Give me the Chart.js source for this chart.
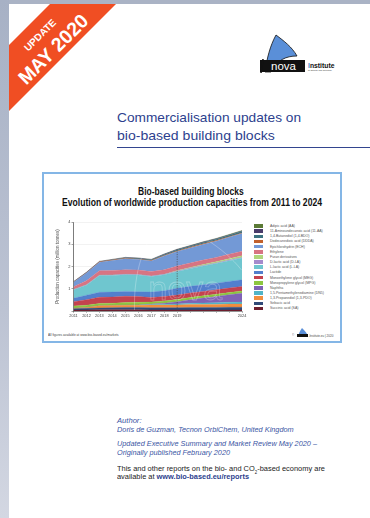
<!DOCTYPE html>
<html>
<head>
<meta charset="utf-8">
<script src="https://cdn.jsdelivr.net/npm/chart.js@4.4.1/dist/chart.umd.min.js"></script>
<style>
  html, body { margin: 0; padding: 0; }
  body { width: 370px; height: 518px; overflow: hidden; position: relative; background: #fff;
         font-family: "Liberation Sans", Arial, Helvetica, sans-serif; }
  .abs { position: absolute; white-space: nowrap; }
  #topStrip { left: 0; top: 0; width: 370px; height: 4px; background: #aab3c5; }
  #leftStrip { left: 0; top: 0; width: 9px; height: 518px;
               background: linear-gradient(#a7b1c5, #bcc3d3 60%, #d3d7e2); }
  .coverTitle { color: #2d3f8e; font-size: 13.3px; line-height: 13.3px; }
  #rule { left: 117px; top: 147px; width: 253px; height: 1px; background: #33458f; }
  #frame { left: 41.5px; top: 172px; width: 296.5px; height: 166.5px; border: 2.5px solid #84b6e6; background: #fff; }
  .chartTitle { font-weight: bold; font-size: 10px; line-height: 10px; color: #111;
                font-family: "Liberation Sans Narrow", "Liberation Sans", Arial, sans-serif; }
  #legend { left: 254px; top: 224.3px; }
  .lg { position: absolute; left: 0; height: 5.15px; white-space: nowrap; }
  .lg i { position: absolute; left: 0; top: 0; width: 9px; height: 3.6px; }
  .lg span { position: absolute; left: 16px; top: -0.3px; font-size: 3.5px; line-height: 4px; color: #555; }
  .foot { font-size: 3px; line-height: 3px; color: #444; }
  .info { font-size: 7.8px; line-height: 7.8px; color: #3b55a3; font-style: italic; }
  .plain { font-size: 7.8px; line-height: 7.8px; color: #222; }
  .plain b { color: #2d3f8e; }
  #chartBox { left: 44px; top: 214px; width: 208px; height: 110px; }
</style>
</head>
<body>
<div id="topStrip" class="abs"></div>
<div id="leftStrip" class="abs"></div>

<!-- corner ribbon -->
<svg class="abs" style="left:0;top:0" width="130" height="130">
  <polygon points="50,4 116,4 9,111 9,45" fill="#f04e23"/>
  <text x="40" y="35" transform="rotate(-45 40 35)" text-anchor="middle" dominant-baseline="central"
        font-family="Liberation Sans, Arial" font-weight="bold" font-size="10" fill="#fff">UPDATE</text>
  <text x="53" y="49" transform="rotate(-45 53 49)" text-anchor="middle" dominant-baseline="central"
        font-family="Liberation Sans, Arial" font-weight="bold" font-size="19.5" fill="#fff">MAY 2020</text>
</svg>

<!-- nova-Institute logo -->
<svg class="abs" style="left:255px;top:30px" width="95" height="48">
  <path d="M10,42 C12,28 15,16 21,5 C29,11 37,17 42,26 C31,26 22,30 16,42 Z" fill="#5a8fd8" stroke="#111" stroke-width="0.8"/>
  <rect x="5" y="30" width="45" height="12" fill="#111"/>
  <path d="M8,29 L6,43" stroke="#111" stroke-width="1.5"/>
  <text x="28.5" y="40" text-anchor="middle" font-family="Liberation Sans, Arial" font-size="11.5" fill="#fff">nova</text>
  <text x="53" y="37.5" font-family="Liberation Sans, Arial" font-weight="bold" font-size="6.8" fill="#111"><tspan fill="#4a7fd0">I</tspan>nstitute</text>
  <text x="53" y="41" font-family="Liberation Sans, Arial" font-size="2" fill="#333">for Ecology and Innovation</text>
</svg>

<div class="abs coverTitle" style="left:117px;top:110.7px" data-w="184">Commercialisation updates on</div>
<div class="abs coverTitle" style="left:117px;top:129.4px" data-w="157.7">bio-based building blocks</div>
<div id="rule" class="abs"></div>

<div id="frame" class="abs"></div>
<div class="abs chartTitle" style="left:138.3px;top:187.3px" data-w="105.7">Bio-based building blocks</div>
<div class="abs chartTitle" style="left:61.7px;top:197.6px" data-w="260">Evolution of worldwide production capacities from 2011 to 2024</div>

<div id="chartBox" class="abs"><canvas id="chart" width="208" height="110"></canvas></div>
<div id="legend" class="abs"></div>

<div class="abs foot" style="left:48.3px;top:333.5px" data-w="70.7">All figures available at www.bio-based.eu/markets</div>
<svg class="abs" style="left:292px;top:326px" width="50" height="12">
  <text x="0" y="10" font-family="Liberation Sans, Arial" font-size="3" fill="#444">©</text>
  <path d="M6,10 C7,7 8,5 10,2 C12,4 14,6 15,8 C11,8 9,9 8,10 Z" fill="#5a8fd8"/>
  <rect x="5" y="8" width="11" height="3" fill="#111"/>
  <text x="16.5" y="10.5" font-family="Liberation Sans, Arial" font-size="3" fill="#444">-Institute.eu | 2020</text>
</svg>

<div class="abs info" style="left:116.7px;top:416.5px" data-w="24.5">Author:</div>
<div class="abs info" style="left:116.7px;top:426.2px" data-w="176.7">Doris de Guzman, Tecnon OrbiChem, United Kingdom</div>
<div class="abs info" style="left:116.7px;top:440.2px" data-w="200">Updated Executive Summary and Market Review May 2020 –</div>
<div class="abs info" style="left:116.7px;top:448.7px" data-w="113">Originally published February 2020</div>
<div class="abs plain" style="left:116.7px;top:464.5px" data-w="208">This and other reports on the bio- and CO<sub style="font-size:4.5px;line-height:0">2</sub>-based economy are</div>
<div class="abs plain" style="left:116.7px;top:473.4px" data-w="132">available at <b>www.bio-based.eu/reports</b></div>

<script>
// Years on the horizontal axis and the labels printed under the ticks
const years = ['2011','2012','2013','2014','2015','2016','2017','2018','2019','2020','2021','2022','2023','2024'];
const tickLabels = ['2011','2012','2013','2014','2015','2016','2017','2018','2019','','','','','2024'];
const yTickLabels = ['', '1', '2', '3', '4'];

// Production capacities per building block, million tonnes
const adipicAcid        = [0, 0, 0, 0, 0, 0, 0, 0, 0.01, 0.01, 0.01, 0.01, 0.02, 0.02];
const aminoundecanoic   = [0.02, 0.02, 0.02, 0.02, 0.02, 0.02, 0.02, 0.02, 0.02, 0.02, 0.02, 0.02, 0.02, 0.02];
const butanediol        = [0, 0, 0, 0.01, 0.02, 0.03, 0.03, 0.04, 0.05, 0.05, 0.06, 0.06, 0.06, 0.07];
const dodecanedioic     = [0.01, 0.01, 0.02, 0.02, 0.02, 0.02, 0.02, 0.03, 0.03, 0.03, 0.03, 0.03, 0.03, 0.03];
const epichlorohydrin   = [0.2, 0.35, 0.38, 0.45, 0.5, 0.47, 0.48, 0.62, 0.65, 0.67, 0.7, 0.73, 0.76, 0.8];
const ethylene          = [0.12, 0.18, 0.2, 0.2, 0.2, 0.2, 0.2, 0.2, 0.2, 0.2, 0.2, 0.2, 0.2, 0.2];
const furanDerivatives  = [0, 0, 0, 0, 0, 0, 0, 0, 0.02, 0.03, 0.04, 0.05, 0.06, 0.07];
const dLacticAcid       = [0.02, 0.02, 0.02, 0.02, 0.02, 0.02, 0.02, 0.02, 0.03, 0.03, 0.03, 0.03, 0.03, 0.03];
const lLacticAcid       = [0.38, 0.45, 0.75, 0.75, 0.75, 0.75, 0.7, 0.72, 0.75, 0.79, 0.84, 0.88, 0.93, 0.98];
const lactide           = [0.15, 0.2, 0.22, 0.22, 0.22, 0.22, 0.24, 0.26, 0.3, 0.3, 0.3, 0.3, 0.3, 0.3];
const monoethyleneGlyc  = [0.2, 0.25, 0.28, 0.28, 0.28, 0.26, 0.2, 0.2, 0.2, 0.2, 0.2, 0.2, 0.2, 0.2];
const monopropyleneGlyc = [0.1, 0.1, 0.1, 0.1, 0.12, 0.12, 0.1, 0.1, 0.1, 0.1, 0.1, 0.1, 0.1, 0.1];
const naphtha           = [0, 0, 0, 0, 0, 0, 0.02, 0.05, 0.1, 0.16, 0.22, 0.28, 0.34, 0.4];
const pentamethylenediamine = [0, 0, 0, 0, 0, 0.01, 0.02, 0.03, 0.05, 0.06, 0.07, 0.08, 0.08, 0.09];
const propanediol       = [0.02, 0.04, 0.1, 0.1, 0.1, 0.1, 0.12, 0.12, 0.12, 0.13, 0.13, 0.13, 0.14, 0.14];
const sebacicAcid       = [0.06, 0.07, 0.08, 0.09, 0.1, 0.1, 0.1, 0.1, 0.1, 0.11, 0.11, 0.11, 0.12, 0.12];
const succinicAcid      = [0.04, 0.05, 0.06, 0.06, 0.06, 0.06, 0.05, 0.05, 0.05, 0.05, 0.05, 0.05, 0.05, 0.05];

// Legend order (top of the stack first)
const seriesNames = [
  'Adipic acid (AA)', '11-Aminoundecanoic acid (11-AA)', '1,4-Butanediol (1,4-BDO)',
  'Dodecanedioic acid (DDDA)', 'Epichlorohydrin (ECH)', 'Ethylene', 'Furan derivatives',
  'D-lactic acid (D-LA)', 'L-lactic acid (L-LA)', 'Lactide', 'Monoethylene glycol (MEG)',
  'Monopropylene glycol (MPG)', 'Naphtha', '1,5-Pentamethylenediamine (DN5)',
  '1,3-Propanediol (1,3-PDO)', 'Sebacic acid', 'Succinic acid (SA)'
];
const seriesValues = [
  adipicAcid, aminoundecanoic, butanediol, dodecanedioic, epichlorohydrin, ethylene,
  furanDerivatives, dLacticAcid, lLacticAcid, lactide, monoethyleneGlyc, monopropyleneGlyc,
  naphtha, pentamethylenediamine, propanediol, sebacicAcid, succinicAcid
];
const seriesColors = [
  '#5b7a36', '#4a3d6b', '#3c7381', '#c2612c', '#7399d6', '#d77483', '#afd57c',
  '#a58bcc', '#6fc6cf', '#527fcd', '#c4424f', '#8dc640', '#8062b6', '#52b4c6',
  '#f28d3d', '#304a78', '#6d1f2f'
];

// Stack is drawn bottom-up: succinic acid first
const datasets = seriesNames.map((name, i) => ({
  label: name,
  data: seriesValues[i],
  backgroundColor: seriesColors[i],
  borderColor: seriesColors[i],
  borderWidth: 0.3,
  pointRadius: 0,
  tension: 0,
  fill: 'origin'
})).reverse();
datasets.forEach((d, i) => { d.fill = i === 0 ? 'origin' : '-1'; });

// HTML legend
const legend = document.getElementById('legend');
seriesNames.forEach((name, i) => {
  const row = document.createElement('div');
  row.className = 'lg';
  row.style.top = (i * 5.15) + 'px';
  row.innerHTML = '<i style="background:' + seriesColors[i] + '"></i><span>' + name + '</span>';
  legend.appendChild(row);
});

// Dashed marker at 2019 separating actual capacities from the forecast
const forecastLine = {
  id: 'forecastLine',
  afterDatasetsDraw(chart) {
    const { ctx, chartArea, scales } = chart;
    const idx = years.indexOf('2019');
    const x = scales.x.getPixelForValue(idx);
    const total = seriesValues.reduce((s, arr) => s + arr[idx], 0);
    const yTop = scales.y.getPixelForValue(total);
    ctx.save();
    ctx.strokeStyle = '#4a4a4a';
    ctx.lineWidth = 0.7;
    ctx.setLineDash([1.2, 1.2]);
    ctx.beginPath();
    ctx.moveTo(x, yTop);
    ctx.lineTo(x, chartArea.bottom);
    ctx.stroke();
    ctx.restore();
  }
};

// Faint nova watermark over the plot
const watermark = {
  id: 'watermark',
  afterDatasetsDraw(chart) {
    const { ctx, chartArea } = chart;
    ctx.save();
    ctx.strokeStyle = 'rgba(255,255,255,0.3)';
    ctx.lineWidth = 0.9;
    const l = chartArea.left, t = chartArea.top;
    ctx.beginPath();
    ctx.moveTo(l + 61, t + 88);
    ctx.bezierCurveTo(l + 60, t + 50, l + 70, t + 20, l + 90, t - 4);
    ctx.bezierCurveTo(l + 120, t + 8, l + 150, t + 25, l + 168, t + 48);
    ctx.stroke();
    ctx.font = '34px "Liberation Sans", Arial';
    ctx.strokeStyle = 'rgba(255,255,255,0.28)';
    ctx.lineWidth = 0.8;
    ctx.strokeText('nova', l + 75, t + 78);
    ctx.restore();
  }
};

new Chart(document.getElementById('chart'), {
  type: 'line',
  data: { labels: years, datasets },
  plugins: [forecastLine, watermark],
  options: {
    responsive: false,
    animation: false,
    devicePixelRatio: 1,
    layout: { padding: { left: 0, right: 10, top: 8, bottom: 0 } },
    plugins: { legend: { display: false }, tooltip: { enabled: false }, filler: { propagate: false } },
    elements: { line: { borderJoinStyle: 'round' } },
    scales: {
      x: {
        type: 'category',
        offset: false,
        grid: { drawOnChartArea: false, tickLength: 2, color: '#777', lineWidth: 0.5 },
        border: { color: '#555', width: 0.6 },
        ticks: {
          autoSkip: false, maxRotation: 0, padding: 0.5,
          font: { size: 3.9, family: '"Liberation Sans", Arial' }, color: '#444',
          callback: (v, i) => tickLabels[i]
        },
        afterFit: s => { s.height = 13; }
      },
      y: {
        stacked: true,
        min: 0, max: 4,
        grid: { color: '#e9e9e9', lineWidth: 0.6, tickLength: 2, tickColor: '#666' },
        border: { color: '#444', width: 0.7 },
        ticks: {
          stepSize: 1, padding: 1,
          font: { size: 4, family: '"Liberation Sans", Arial' }, color: '#444',
          callback: (v) => yTickLabels[v]
        },
        title: {
          display: true, text: 'Production capacities (million tonnes)',
          font: { size: 4.5, family: '"Liberation Sans", Arial' }, color: '#555',
          padding: { top: 11.5, bottom: 0 }
        },
        afterFit: s => { s.width = 29.5; }
      }
    }
  }
});

// Stretch text blocks horizontally to their set widths
document.querySelectorAll('[data-w]').forEach(el => {
  const w = el.getBoundingClientRect().width;
  el.style.transformOrigin = 'left top';
  el.style.transform = 'scaleX(' + (parseFloat(el.dataset.w) / w) + ')';
});
</script>
</body>
</html>
